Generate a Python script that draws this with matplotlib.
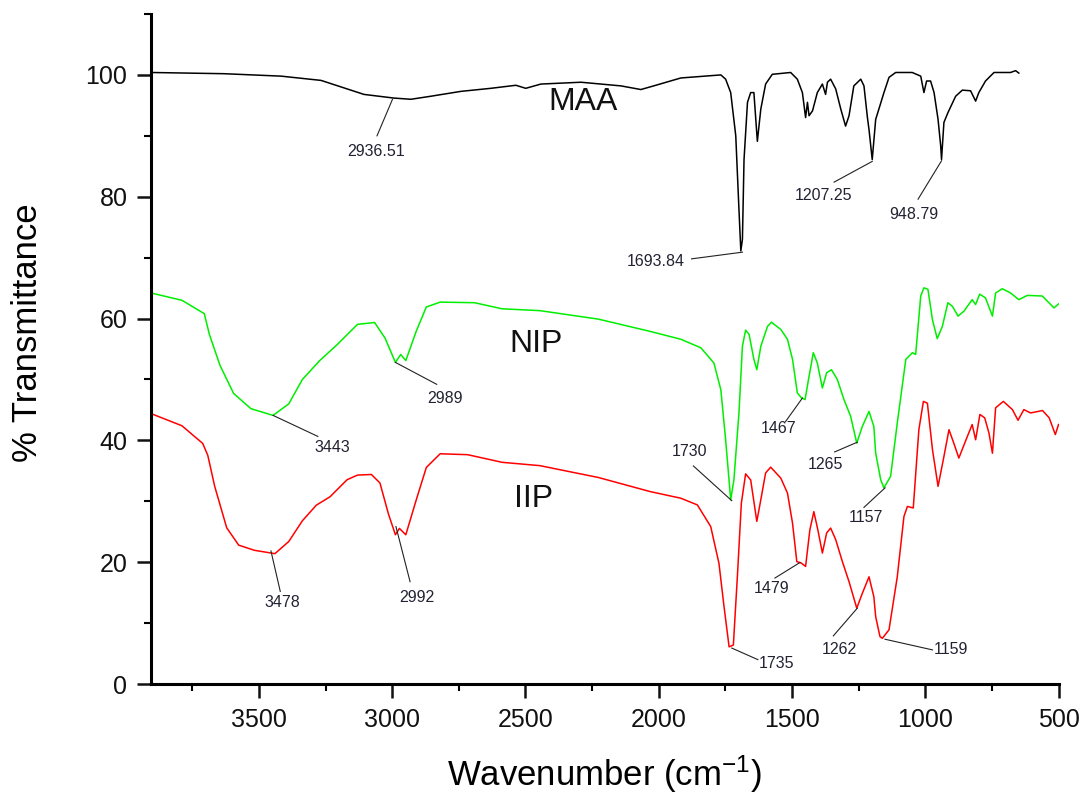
import matplotlib
matplotlib.use("Agg")
import matplotlib.pyplot as plt
from matplotlib.ticker import MultipleLocator

plt.rcParams["font.family"] = ["Liberation Sans", "DejaVu Sans"]
plt.rcParams["mathtext.fontset"] = "custom"
plt.rcParams["mathtext.rm"] = "Liberation Sans"
plt.rcParams["mathtext.default"] = "regular"

# ── Spectra (wavenumber in cm-1, % transmittance) ────────────────────────────

maa_wn = [3905, 3631, 3417, 3267, 3106, 2994, 2930, 2855, 2742, 2630, 2536,
          2499, 2442, 2292, 2142, 2067, 2011, 1917, 1767, 1749, 1730, 1711,
          1699, 1692, 1686, 1680, 1667, 1655, 1643, 1630, 1617, 1599, 1574,
          1505, 1480, 1461, 1449, 1442, 1436, 1423, 1405, 1386, 1374, 1367,
          1355, 1336, 1317, 1299, 1286, 1268, 1242, 1230, 1217, 1211, 1199,
          1186, 1174, 1155, 1136, 1111, 1049, 1017, 1005, 995, 980, 967, 952,
          942, 939, 930, 915, 886, 861, 830, 811, 799, 774, 742, 680, 661, 649]
maa_t = [100.4, 100.2, 99.8, 99.1, 96.8, 96.2, 96.0, 96.5, 97.3, 97.8, 98.3,
         97.8, 98.5, 98.8, 98.2, 97.6, 98.3, 99.5, 100.0, 99.3, 97.1, 90.0,
         77.9, 71.1, 73.0, 86.1, 95.5, 97.1, 97.1, 89.1, 94.4, 98.5, 100.1,
         100.4, 99.3, 97.1, 93.0, 95.5, 93.3, 94.1, 97.1, 98.5, 96.8, 98.8,
         99.3, 97.7, 94.4, 91.6, 93.3, 98.2, 99.3, 98.2, 93.0, 91.0, 86.1,
         92.7, 94.4, 97.1, 99.6, 100.4, 100.4, 99.8, 97.1, 99.0, 99.0, 97.1,
         92.7, 88.3, 86.1, 92.2, 93.8, 96.5, 97.5, 97.4, 95.7, 97.1, 99.0,
         100.4, 100.4, 100.7, 100.3]

nip_wn = [3905, 3789, 3705, 3686, 3646, 3595, 3530, 3447, 3388, 3337, 3272,
          3207, 3130, 3066, 3027, 2988, 2968, 2949, 2910, 2872, 2820, 2691,
          2588, 2446, 2226, 2033, 1917, 1842, 1793, 1767, 1749, 1730, 1718,
          1699, 1686, 1674, 1661, 1643, 1632, 1617, 1592, 1577, 1542, 1517,
          1498, 1480, 1465, 1451, 1436, 1420, 1405, 1386, 1370, 1352, 1330,
          1305, 1280, 1257, 1236, 1211, 1193, 1186, 1167, 1155, 1130, 1105,
          1073, 1048, 1036, 1017, 1005, 990, 973, 955, 936, 915, 898, 877,
          855, 824, 811, 796, 774, 748, 736, 711, 680, 649, 617, 561, 517, 500]
nip_t = [64.2, 63.0, 60.8, 57.4, 52.3, 47.7, 45.2, 44.1, 46.0, 50.0, 53.1,
         55.7, 59.05, 59.35, 56.8, 52.8, 54.1, 53.1, 57.9, 61.9, 62.7, 62.6,
         61.6, 61.3, 59.9, 57.9, 56.6, 55.2, 52.7, 48.3, 40.1, 30.25, 33.5,
         44.5, 55.45, 58.1, 57.4, 53.3, 51.6, 55.45, 58.7, 59.4, 58.2, 56.6,
         53.3, 47.8, 47.0, 46.7, 50.5, 54.4, 52.7, 48.6, 51.1, 51.6, 50.0,
         46.7, 43.95, 39.55, 42.3, 44.75, 42.3, 37.9, 33.5, 32.2, 34.1, 42.85,
         53.3, 54.4, 54.1, 63.7, 65.05, 64.8, 59.8, 56.7, 58.7, 62.6, 62.0,
         60.4, 61.2, 63.1, 62.3, 64.0, 63.4, 60.4, 64.2, 64.9, 64.2, 63.1,
         63.8, 63.7, 61.75, 62.4]

iip_wn = [3905, 3789, 3711, 3692, 3666, 3621, 3576, 3517, 3440, 3388, 3337,
          3285, 3233, 3169, 3130, 3078, 3046, 3014, 2988, 2973, 2949, 2910,
          2872, 2820, 2717, 2588, 2446, 2226, 2033, 1917, 1855, 1805, 1774,
          1755, 1736, 1720, 1705, 1690, 1674, 1655, 1632, 1617, 1599, 1580,
          1542, 1517, 1498, 1482, 1465, 1449, 1433, 1418, 1403, 1386, 1370,
          1355, 1336, 1311, 1286, 1257, 1236, 1211, 1193, 1186, 1170, 1161,
          1136, 1105, 1080, 1067, 1045, 1024, 1007, 992, 973, 952, 930, 911,
          893, 874, 842, 824, 811, 795, 777, 761, 748, 736, 707, 673, 652, 630,
          605, 560, 535, 512, 500]
iip_t = [44.4, 42.4, 39.5, 37.55, 32.45, 25.65, 22.8, 21.95, 21.4, 23.4, 26.8,
         29.35, 30.75, 33.55, 34.3, 34.4, 33.0, 27.9, 24.5, 25.55, 24.5, 30.2,
         35.55, 37.8, 37.65, 36.4, 35.85, 33.9, 31.6, 30.5, 29.4, 25.85, 19.8,
         12.7, 6.1, 6.4, 17.6, 29.7, 34.5, 33.5, 26.7, 30.25, 34.65, 35.6,
         33.8, 31.35, 26.4, 20.1, 19.85, 19.3, 25.3, 28.3, 25.3, 21.5, 24.8,
         25.6, 23.7, 20.1, 16.8, 12.45, 14.9, 17.6, 14.35, 11.05, 7.8, 7.5,
         8.9, 17.6, 27.5, 29.15, 28.9, 41.75, 46.4, 46.1, 38.5, 32.45, 37.35,
         41.75, 39.55, 37.1, 40.65, 42.6, 40.1, 44.25, 43.7, 41.2, 37.9, 45.35,
         46.4, 45.05, 43.3, 45.05, 44.5, 44.9, 43.7, 40.95, 42.6]

# ── Series names (label, wn, T) ───────────────────────────────────────────────
series_names = ["MAA", "NIP", "IIP"]
name_wn = [2285, 2462, 2469]
name_t = [95.5, 55.9, 30.3]

# ── Peak labels: text, peak (wn, T), leader end (wn, T), text centre (wn, T) ─
peak_text = ["2936.51", "1693.84", "1207.25", "948.79",
             "3443", "2989", "1730", "1467", "1265", "1157",
             "3478", "2992", "1735", "1479", "1262", "1159"]
peak_wn = [2999, 1686, 1199, 939, 3447, 2988, 1726, 1461, 1255, 1151,
           3455, 2986, 1726, 1470, 1255, 1151]
peak_t = [96.0, 70.9, 85.8, 85.9, 44.1, 52.8, 30.1, 46.95, 39.7, 32.2,
          21.85, 25.85, 5.9, 19.95, 12.45, 7.35]
lead_wn = [3057, 1877, 1342, 1027, 3279, 2833, 1870, 1524, 1340, 1230,
           3420, 2933, 1628, 1564, 1345, 973]
lead_t = [90.0, 69.8, 82.4, 79.6, 40.65, 49.2, 35.8, 43.1, 38.1, 29.0,
          15.2, 16.8, 4.0, 17.4, 7.9, 5.6]
text_wn = [3061, 2010, 1381, 1044, 3224, 2802, 1886, 1550, 1374, 1224,
           3414, 2907, 1557, 1576, 1324, 905]
text_t = [87.5, 69.4, 80.2, 77.1, 38.85, 46.9, 38.2, 41.9, 36.1, 27.35,
          13.4, 14.2, 3.3, 15.7, 5.7, 5.7]


fig = plt.figure(figsize=(10.84, 7.96), dpi=100)
ax = fig.add_axes([0.1393, 0.1407, 0.8372, 0.8417])

ax.plot(maa_wn, maa_t, color="black", lw=1.1)
ax.plot(nip_wn, nip_t, color="#00ee00", lw=1.1)
ax.plot(iip_wn, iip_t, color="#ff0000", lw=1.1)

for name, x, y in zip(series_names, name_wn, name_t):
    ax.text(x, y, name, fontsize=23, ha="center", va="center", color="#111111")

for i, label in enumerate(peak_text):
    ax.plot([peak_wn[i], lead_wn[i]], [peak_t[i], lead_t[i]],
            color="#222222", lw=0.8)
    ax.text(text_wn[i], text_t[i], label, fontsize=11.5, ha="center",
            va="center", color="#222233")

ax.set_xlim(3905, 500)
ax.set_ylim(0, 110)
ax.xaxis.set_major_locator(MultipleLocator(500))
ax.xaxis.set_minor_locator(MultipleLocator(250))
ax.yaxis.set_major_locator(MultipleLocator(20))
ax.yaxis.set_minor_locator(MultipleLocator(10))

for side in ["top", "right"]:
    ax.spines[side].set_visible(False)
for side in ["left", "bottom"]:
    ax.spines[side].set_linewidth(2.2)

ax.tick_params(which="major", direction="out", length=10, width=1.8,
               labelsize=18, pad=7, colors="#111111")
ax.tick_params(which="minor", direction="out", length=5, width=1.5)

ax.set_xlabel("Wavenumber (cm$^{-1}$)", fontsize=25, labelpad=16)
ax.set_ylabel("% Transmittance", fontsize=25)
ax.yaxis.set_label_coords(-0.118, 0.524)

fig.savefig("out.png", dpi=100)
